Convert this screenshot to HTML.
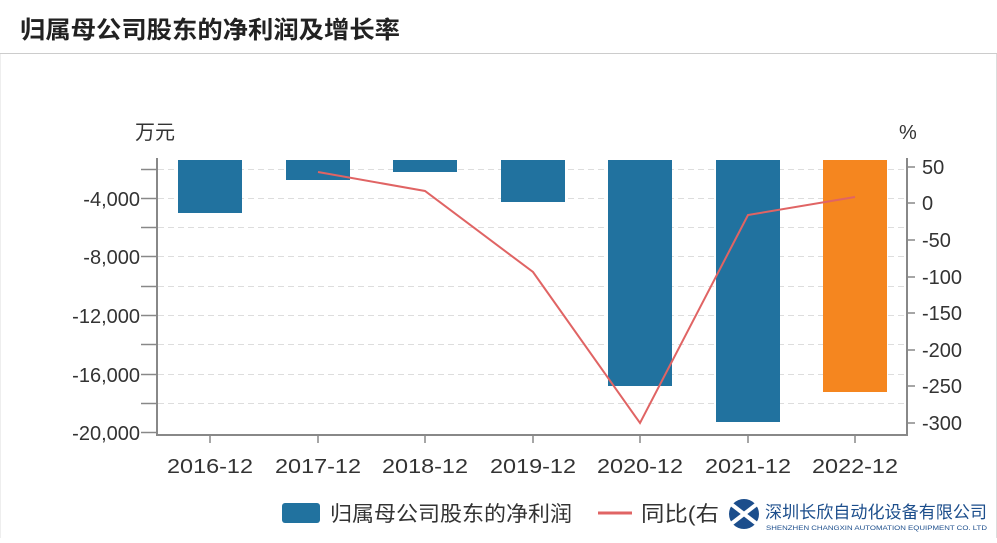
<!DOCTYPE html>
<html><head><meta charset="utf-8"><style>
body{margin:0;background:#fff;font-family:"Liberation Sans","Noto Sans CJK SC",sans-serif;}
</style></head><body>
<svg width="997" height="538" xmlns="http://www.w3.org/2000/svg" font-family="Liberation Sans, Noto Sans CJK SC, sans-serif">
<rect width="997" height="538" fill="#fff"/>
<text x="20" y="38" font-size="24" font-weight="bold" fill="#222" textLength="380" lengthAdjust="spacingAndGlyphs">归属母公司股东的净利润及增长率</text>
<line x1="0" y1="53.5" x2="997" y2="53.5" stroke="#ccc"/>
<line x1="996.5" y1="54" x2="996.5" y2="538" stroke="#ddd"/>
<line x1="0.5" y1="54" x2="0.5" y2="538" stroke="#eee"/>
<text x="135" y="139" font-size="20" fill="#333">万元</text>
<text x="899" y="139" font-size="20" fill="#333">%</text>
<g stroke="#ddd" stroke-dasharray="6,4">
<line x1="158" x2="907" y1="169.5" y2="169.5"/><line x1="158" x2="907" y1="198.5" y2="198.5"/>
<line x1="158" x2="907" y1="227.5" y2="227.5"/><line x1="158" x2="907" y1="256.5" y2="256.5"/>
<line x1="158" x2="907" y1="286.5" y2="286.5"/><line x1="158" x2="907" y1="315.5" y2="315.5"/>
<line x1="158" x2="907" y1="344.5" y2="344.5"/><line x1="158" x2="907" y1="374.5" y2="374.5"/>
<line x1="158" x2="907" y1="403.5" y2="403.5"/>
</g>
<g fill="#21729f">
<rect x="178" y="160" width="64" height="53"/>
<rect x="286" y="160" width="64" height="20"/>
<rect x="393" y="160" width="64" height="12"/>
<rect x="501" y="160" width="64" height="42"/>
<rect x="608" y="160" width="64" height="226"/>
<rect x="716" y="160" width="64" height="262"/>
</g>
<rect x="823" y="160" width="64" height="232" fill="#f5861f"/>
<polyline points="318,172 425,191 533,272 640,423 748,215 855,197" fill="none" stroke="#e06464" stroke-width="2"/>
<g stroke="#888" stroke-width="2">
<line x1="157" y1="158" x2="157" y2="436"/>
<line x1="157" y1="435" x2="907" y2="435"/>
<line x1="907" y1="158" x2="907" y2="436"/>
</g>
<g stroke="#888" stroke-width="1.5">
<line x1="141" x2="157" y1="169.5" y2="169.5"/><line x1="141" x2="157" y1="198.5" y2="198.5"/>
<line x1="141" x2="157" y1="227.5" y2="227.5"/><line x1="141" x2="157" y1="256.5" y2="256.5"/>
<line x1="141" x2="157" y1="286.5" y2="286.5"/><line x1="141" x2="157" y1="315.5" y2="315.5"/>
<line x1="141" x2="157" y1="344.5" y2="344.5"/><line x1="141" x2="157" y1="374.5" y2="374.5"/>
<line x1="141" x2="157" y1="403.5" y2="403.5"/><line x1="141" x2="157" y1="432.5" y2="432.5"/>
<line x1="907" x2="915" y1="167" y2="167"/><line x1="907" x2="915" y1="203" y2="203"/>
<line x1="907" x2="915" y1="240" y2="240"/><line x1="907" x2="915" y1="277" y2="277"/>
<line x1="907" x2="915" y1="313" y2="313"/><line x1="907" x2="915" y1="350" y2="350"/>
<line x1="907" x2="915" y1="386" y2="386"/><line x1="907" x2="915" y1="423" y2="423"/>
<line x1="210" x2="210" y1="435" y2="443"/><line x1="318" x2="318" y1="435" y2="443"/>
<line x1="425" x2="425" y1="435" y2="443"/><line x1="533" x2="533" y1="435" y2="443"/>
<line x1="640" x2="640" y1="435" y2="443"/><line x1="748" x2="748" y1="435" y2="443"/>
<line x1="855" x2="855" y1="435" y2="443"/>
</g>
<g font-size="20" fill="#333" text-anchor="end">
<text x="140" y="206">-4,000</text><text x="140" y="264">-8,000</text>
<text x="140" y="323">-12,000</text><text x="140" y="382">-16,000</text>
<text x="140" y="440">-20,000</text>
</g>
<g font-size="20" fill="#333">
<text x="922" y="174">50</text><text x="922" y="210">0</text>
<text x="922" y="247">-50</text><text x="922" y="284">-100</text>
<text x="922" y="320">-150</text><text x="922" y="357">-200</text>
<text x="922" y="393">-250</text><text x="922" y="430">-300</text>
</g>
<g font-size="20" fill="#333">
<text x="167" y="473" textLength="86" lengthAdjust="spacingAndGlyphs">2016-12</text>
<text x="275" y="473" textLength="86" lengthAdjust="spacingAndGlyphs">2017-12</text>
<text x="382" y="473" textLength="86" lengthAdjust="spacingAndGlyphs">2018-12</text>
<text x="490" y="473" textLength="86" lengthAdjust="spacingAndGlyphs">2019-12</text>
<text x="597" y="473" textLength="86" lengthAdjust="spacingAndGlyphs">2020-12</text>
<text x="705" y="473" textLength="86" lengthAdjust="spacingAndGlyphs">2021-12</text>
<text x="812" y="473" textLength="86" lengthAdjust="spacingAndGlyphs">2022-12</text>
</g>
<rect x="282" y="503" width="38" height="20" rx="3" fill="#21729f"/>
<text x="330" y="521" font-size="21" fill="#333" textLength="242" lengthAdjust="spacingAndGlyphs">归属母公司股东的净利润</text>
<line x1="598" y1="513" x2="632" y2="513" stroke="#e06464" stroke-width="3"/>
<text x="641" y="521" font-size="21" fill="#333" textLength="78" lengthAdjust="spacingAndGlyphs">同比(右</text>
<circle cx="744" cy="514" r="15" fill="#1c4e8c"/>
<path d="M731 504 L757 524 M731 524 L757 504" stroke="#fff" stroke-width="4"/>
<text x="765" y="518" font-size="17" fill="#1c4e8c" textLength="222" lengthAdjust="spacingAndGlyphs">深圳长欣自动化设备有限公司</text>
<text x="766" y="530" font-size="6.5" fill="#1c4e8c" textLength="221" lengthAdjust="spacingAndGlyphs">SHENZHEN CHANGXIN AUTOMATION EQUIPMENT CO. LTD</text>
</svg>
</body></html>
